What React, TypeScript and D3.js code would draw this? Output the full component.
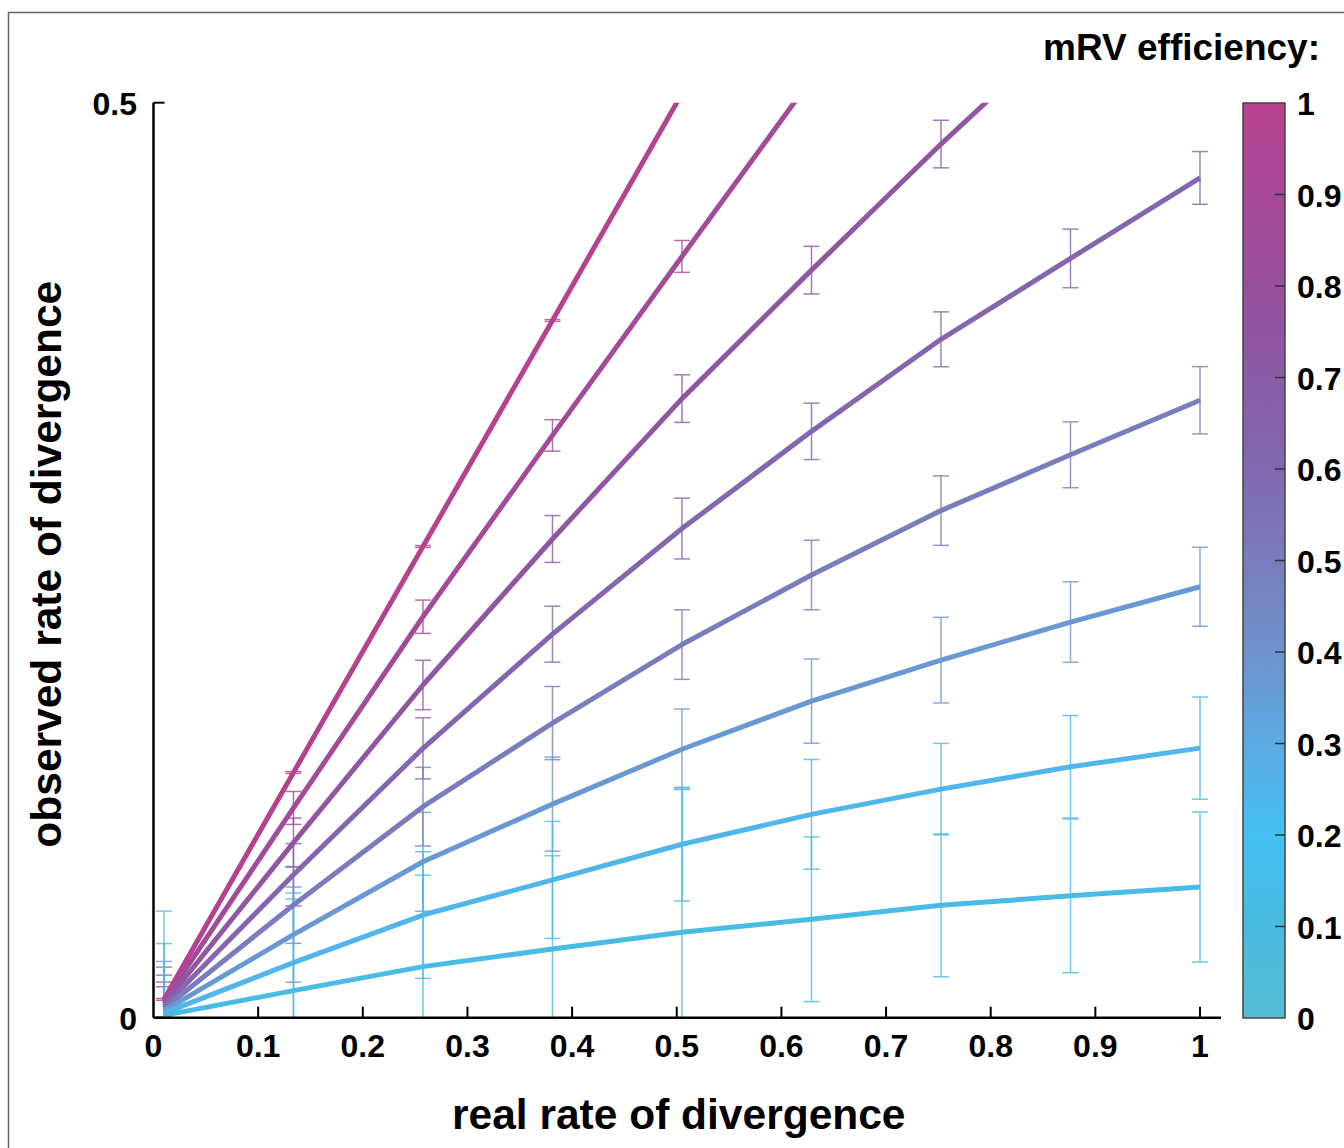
import * as d3 from 'd3';

// real rate of divergence (x positions of the simulated points)
const realRate = [0.01, 0.13375, 0.2575, 0.38125, 0.505, 0.62875, 0.7525, 0.87625, 1];

// mRV efficiency of each curve
const efficiency = [1, 0.875, 0.75, 0.625, 0.5, 0.375, 0.25, 0.125];

// observed rate of divergence, one row per efficiency
const observed = [
    [0.01, 0.134, 0.2575, 0.381, 0.505],
    [0.00875, 0.1146, 0.2191, 0.3182, 0.416, 0.513],
    [0.0075, 0.0957, 0.1818, 0.2616, 0.3383, 0.4085, 0.4774, 0.543],
    [0.00625, 0.0781, 0.1472, 0.2096, 0.2673, 0.3204, 0.3707, 0.4149, 0.4589],
    [0.005, 0.0616, 0.1153, 0.161, 0.2039, 0.2419, 0.2771, 0.3076, 0.3374],
    [0.00375, 0.0454, 0.0852, 0.1167, 0.1467, 0.173, 0.1954, 0.2162, 0.2355],
    [0.0025, 0.0301, 0.0561, 0.0753, 0.0948, 0.1111, 0.1249, 0.1371, 0.1473],
    [0.00125, 0.0148, 0.0279, 0.0375, 0.0467, 0.0538, 0.0614, 0.0666, 0.0714],
];

// half-length of the error bars
const errors = [
    [0.0005, 0.0005, 0.0005, 0.0005, 0.0005],
    [0.0082, 0.009, 0.0091, 0.0086, 0.0087, 0.009],
    [0.012, 0.0134, 0.0135, 0.0128, 0.013, 0.013, 0.013, 0.013],
    [0.017, 0.017, 0.0167, 0.0153, 0.0166, 0.0154, 0.015, 0.016, 0.0144],
    [0.0226, 0.021, 0.0215, 0.02, 0.019, 0.019, 0.019, 0.018, 0.0184],
    [0.027, 0.026, 0.027, 0.0257, 0.022, 0.023, 0.0234, 0.022, 0.0216],
    [0.038, 0.038, 0.0346, 0.032, 0.031, 0.03, 0.025, 0.028, 0.0279],
    [0.057, 0.05, 0.05, 0.051, 0.079, 0.045, 0.039, 0.042, 0.041],
];

const xTicks = [0, 0.1, 0.2, 0.3, 0.4, 0.5, 0.6, 0.7, 0.8, 0.9, 1];
const yTicks = [0, 0.5];
const barTicks = [0, 0.1, 0.2, 0.3, 0.4, 0.5, 0.6, 0.7, 0.8, 0.9, 1];

const mapStops = [0, 0.1, 0.2, 0.3, 0.4, 0.5, 0.6, 0.7, 0.8, 0.9, 1];
const mapColors = ['#55bdd3', '#4abbe0', '#44c0f3', '#5cabe2', '#6e92cd', '#7a7cbc',
    '#8169af', '#8a5ca6', '#984f9d', '#a64896', '#b6428f'];

const FONT = '"Liberation Sans", Arial, Helvetica, sans-serif';

export default function App() {
    const W = 1344;
    const H = 1148;
    const plot = { left: 153.5, right: 1200, top: 102.7, bottom: 1017.7, axisEnd: 1221 };

    const xScale = d3.scaleLinear().domain([0, 1]).range([plot.left, plot.right]);
    const yScale = d3.scaleLinear().domain([0, 0.5]).range([plot.bottom, plot.top]);
    const cmap = d3.scaleLinear<string>().domain(mapStops).range(mapColors).interpolate(d3.interpolateRgb);

    const bar = { x: 1243, w: 42, top: 103, bottom: 1018 };
    const barScale = d3.scaleLinear().domain([0, 1]).range([bar.bottom, bar.top]);

    const line = d3.line<number>()
        .x((d, i) => xScale(realRate[i]))
        .y((d) => yScale(d));

    const fmt = (v: number) => (v === 0 ? '0' : v === 1 ? '1' : String(v));

    return (
        <svg width={W} height={H} style={{ position: 'absolute', left: 0, top: 0, background: '#fff' }}
            fontFamily={FONT} fontWeight="bold">
            <defs>
                <clipPath id="plotClip">
                    <rect x={plot.left} y={plot.top} width={plot.axisEnd - plot.left} height={plot.bottom - plot.top} />
                </clipPath>
                <linearGradient id="effGrad" x1="0" y1="1" x2="0" y2="0">
                    {mapStops.map((s, i) => (
                        <stop key={i} offset={s} stopColor={mapColors[i]} />
                    ))}
                </linearGradient>
            </defs>

            {/* outer frame */}
            <rect x={8.5} y={12.5} width={W} height={H} fill="none" stroke="#666" strokeWidth={1.5} />

            {/* error bars and curves */}
            <g clipPath="url(#plotClip)">
                {observed.map((row, s) => (
                    <g key={'e' + s} stroke={cmap(efficiency[s])} strokeWidth={1.5} opacity={0.8}>
                        {row.map((v, i) => {
                            const x = xScale(realRate[i]);
                            const y1 = yScale(v + errors[s][i]);
                            const y2 = yScale(v - errors[s][i]);
                            return (
                                <g key={i}>
                                    <line x1={x} x2={x} y1={y1} y2={y2} />
                                    <line x1={x - 8} x2={x + 8} y1={y1} y2={y1} />
                                    <line x1={x - 8} x2={x + 8} y1={y2} y2={y2} />
                                </g>
                            );
                        })}
                    </g>
                ))}
                {observed.map((row, s) => (
                    <path key={'l' + s} d={line(row) || ''} fill="none"
                        stroke={cmap(efficiency[s])} strokeWidth={5} strokeLinejoin="round" />
                ))}
            </g>

            {/* axes */}
            <line x1={plot.left} x2={plot.axisEnd} y1={plot.bottom} y2={plot.bottom} stroke="#000" strokeWidth={2.5} />
            <line x1={plot.left} x2={plot.left} y1={plot.top} y2={plot.bottom} stroke="#000" strokeWidth={2.5} />
            {xTicks.map((t) => (
                <g key={'xt' + t}>
                    {t > 0 && <line x1={xScale(t)} x2={xScale(t)} y1={plot.bottom} y2={plot.bottom - 11} stroke="#000" strokeWidth={2} />}
                    <text x={xScale(t)} y={1057} fontSize={32} textAnchor="middle">{fmt(t)}</text>
                </g>
            ))}
            {yTicks.map((t) => (
                <g key={'yt' + t}>
                    {t > 0 && <line x1={plot.left} x2={plot.left + 11} y1={yScale(t)} y2={yScale(t)} stroke="#000" strokeWidth={2} />}
                    <text x={137} y={yScale(t) + 12} fontSize={32} textAnchor="end">{fmt(t)}</text>
                </g>
            ))}

            <text x={(plot.left + plot.right) / 2 + 2} y={1129} fontSize={42.5} textAnchor="middle">real rate of divergence</text>
            <text transform={`translate(61, ${(plot.top + plot.bottom) / 2 + 4}) rotate(-90)`} fontSize={42.5} textAnchor="middle">
                observed rate of divergence
            </text>

            {/* colour bar */}
            <text x={1320} y={60} fontSize={37} textAnchor="end">mRV efficiency:</text>
            <rect x={bar.x} y={bar.top} width={bar.w} height={bar.bottom - bar.top} fill="url(#effGrad)" stroke="#444" strokeWidth={1.5} />
            {barTicks.map((t) => (
                <g key={'bt' + t}>
                    {t > 0 && t < 1 && <line x1={bar.x + bar.w - 10} x2={bar.x + bar.w} y1={barScale(t)} y2={barScale(t)} stroke="#333" strokeWidth={1.5} />}
                    <text x={1297} y={barScale(t) + 12} fontSize={32}>{fmt(t)}</text>
                </g>
            ))}
        </svg>
    );
}
